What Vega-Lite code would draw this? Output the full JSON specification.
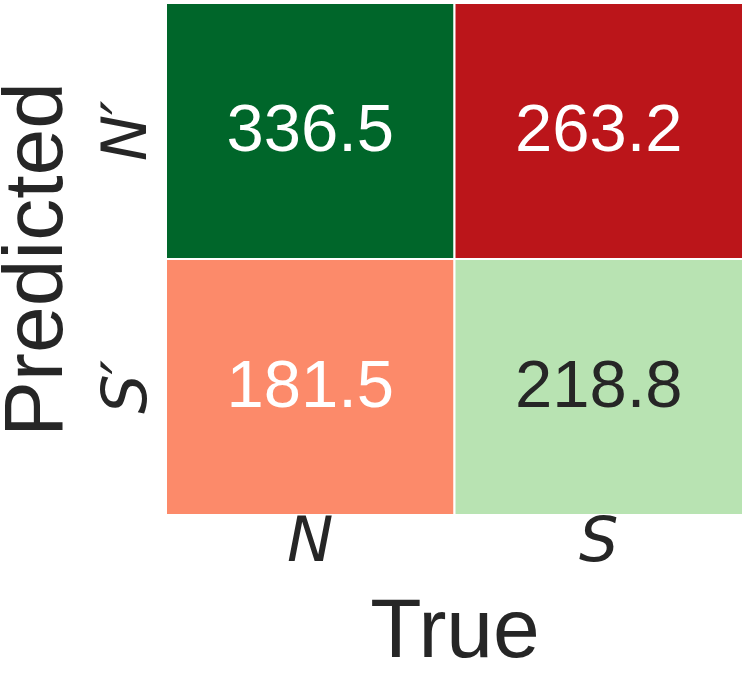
{
  "$schema": "https://vega.github.io/schema/vega-lite/v6.json",
  "width": 577,
  "height": 512,
  "autosize": "none",
  "padding": {"left": 166, "top": 3, "right": 4, "bottom": 166},
  "background": "white",
  "config": {"view": {"stroke": null}, "font": "Liberation Sans"},
  "data": {"values": [
    {"true": "N", "pred": "N′", "value": 336.5, "kind": "TN"},
    {"true": "S", "pred": "N′", "value": 263.2, "kind": "FN"},
    {"true": "N", "pred": "S′", "value": 181.5, "kind": "FP"},
    {"true": "S", "pred": "S′", "value": 218.8, "kind": "TP"}
  ]},
  "encoding": {
    "x": {"field": "true", "type": "nominal", "sort": ["N", "S"],
      "scale": {"paddingInner": 0, "paddingOuter": 0},
      "axis": {"title": "True", "titleFontSize": 84, "titleFontWeight": "normal", "titleColor": "#262626", "titlePadding": 18,
        "labelAngle": 0, "labelFontSize": 62, "labelFontStyle": "italic", "labelFont": "DejaVu Sans", "labelColor": "#262626",
        "ticks": false, "domain": false, "labelPadding": -4}},
    "y": {"field": "pred", "type": "nominal", "sort": ["N′", "S′"],
      "scale": {"paddingInner": 0, "paddingOuter": 0},
      "axis": {"title": "Predicted", "titleFontSize": 84, "titleFontWeight": "normal", "titleColor": "#262626", "titlePadding": 16,
        "labelAngle": -90, "labelFontSize": 62, "labelFontStyle": "italic", "labelFont": "DejaVu Sans", "labelColor": "#262626",
        "ticks": false, "domain": false, "labelPadding": 8}}
  },
  "layer": [
    {"mark": {"type": "rect", "stroke": "white", "strokeWidth": 2},
      "encoding": {"color": {"field": "kind", "type": "nominal", "legend": null,
        "scale": {"domain": ["TN", "FN", "FP", "TP"], "range": ["#00662a", "#bb151a", "#fc8a6a", "#b8e3b2"]}}}},
    {"mark": {"type": "text", "fontSize": 67},
      "encoding": {"text": {"field": "value", "type": "quantitative", "format": ".1f"},
        "color": {"condition": {"test": "datum.value === 218.8", "value": "#262626"}, "value": "white"}}}
  ]
}
